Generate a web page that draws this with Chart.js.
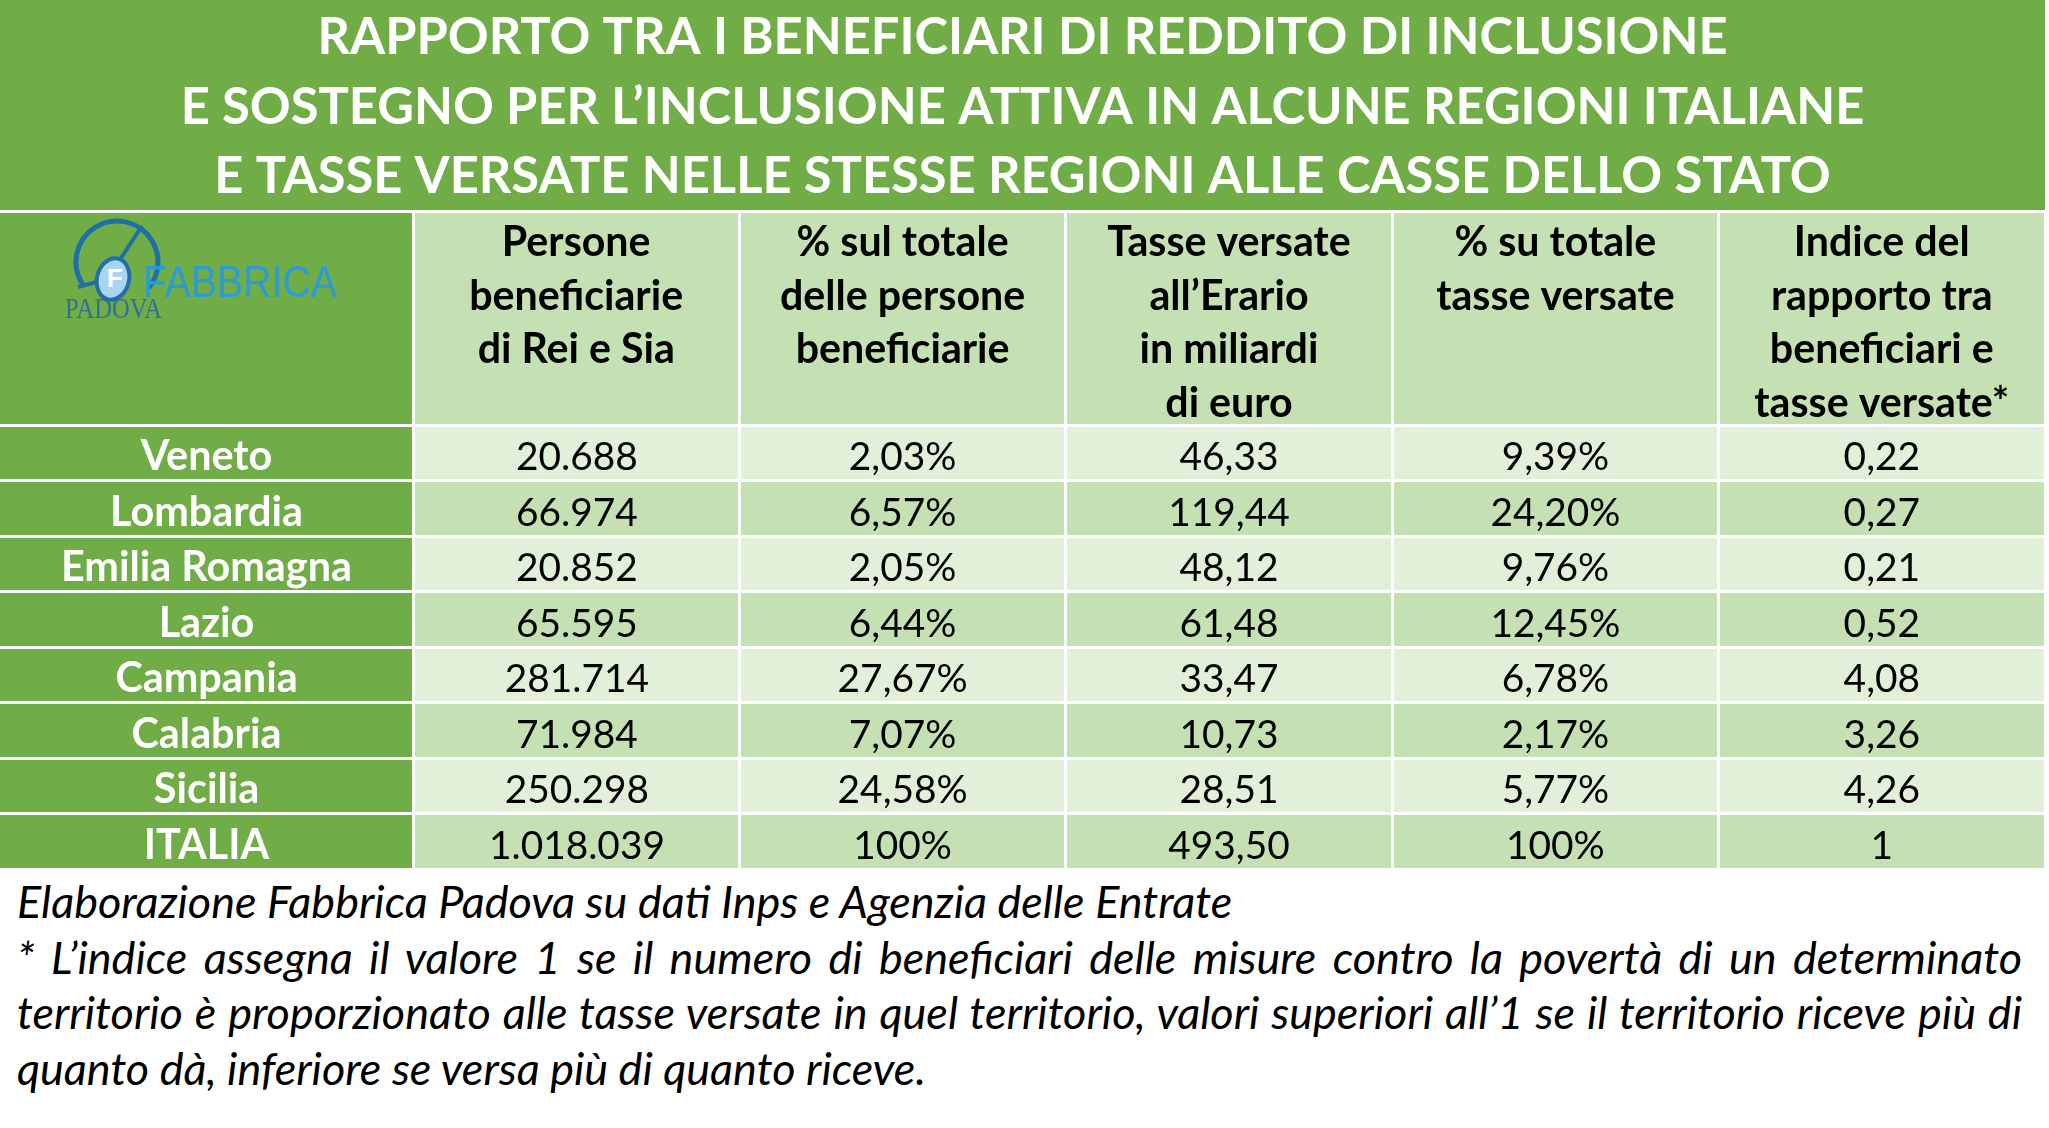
<!DOCTYPE html>
<html>
<head>
<meta charset="utf-8">
<script src="https://cdn.jsdelivr.net/npm/chart.js@4.4.0/dist/chart.umd.min.js"></script>
<style>
  body { margin: 0; background: #fff; width: 2049px; height: 1128px; overflow: hidden; }
  #table { position: absolute; left: 0; top: 0; }
  #note { position: absolute; left: 17px; top: 874px; width: 2005px; font-family: Lato; font-style: italic; color: #000; line-height: 55.5px; white-space: nowrap; }
  #note .j { text-align: justify; text-align-last: justify; }
</style>
</head>
<body>
<canvas id="table" width="2049" height="870"></canvas>
<div id="note">
  <div id="source">Elaborazione Fabbrica Padova su dati Inps e Agenzia delle Entrate</div>
  <div class="j">* L’indice assegna il valore 1 se il numero di beneficiari delle misure contro la povertà di un determinato</div>
  <div class="j">territorio è proporzionato alle tasse versate in quel territorio, valori superiori all’1 se il territorio riceve più di</div>
  <div>quanto dà, inferiore se versa più di quanto riceve.</div>
</div>
<script>
const titleLines = [
  'RAPPORTO TRA I BENEFICIARI DI REDDITO DI INCLUSIONE',
  'E SOSTEGNO PER L’INCLUSIONE ATTIVA IN ALCUNE REGIONI ITALIANE',
  'E TASSE VERSATE NELLE STESSE REGIONI ALLE CASSE DELLO STATO'
];
const headers = [
  ['Persone', 'beneficiarie', 'di Rei e Sia'],
  ['% sul totale', 'delle persone', 'beneficiarie'],
  ['Tasse versate', 'all’Erario', 'in miliardi', 'di euro'],
  ['% su totale', 'tasse versate'],
  ['Indice del', 'rapporto tra', 'beneficiari e', 'tasse versate*']
];
const regions = ['Veneto', 'Lombardia', 'Emilia Romagna', 'Lazio', 'Campania', 'Calabria', 'Sicilia', 'ITALIA'];
const beneficiari = ['20.688', '66.974', '20.852', '65.595', '281.714', '71.984', '250.298', '1.018.039'];
const quotaBeneficiari = ['2,03%', '6,57%', '2,05%', '6,44%', '27,67%', '7,07%', '24,58%', '100%'];
const tasse = ['46,33', '119,44', '48,12', '61,48', '33,47', '10,73', '28,51', '493,50'];
const quotaTasse = ['9,39%', '24,20%', '9,76%', '12,45%', '6,78%', '2,17%', '5,77%', '100%'];
const indice = ['0,22', '0,27', '0,21', '0,52', '4,08', '3,26', '4,26', '1'];

const GREEN = '#70ad47';
const MEDIUM = '#c5e0b3';
const LIGHT = '#e2efd9';

const columns = [beneficiari, quotaBeneficiari, tasse, quotaTasse, indice];

// pick font sizes so that a reference string gets the width it has in the picture
const probe = document.createElement('canvas').getContext('2d');
function fitSize(text, style, target) {
  probe.font = `${style} 100px Lato`;
  return 100 * target / probe.measureText(text).width;
}
function widest(texts, font) {
  probe.font = font;
  return Math.max(...texts.map((t) => probe.measureText(t).width));
}

const titleSize = fitSize(titleLines[1], 'bold', 1684);
const headSize = fitSize('beneficiarie', 'bold', 214);
const regionSize = fitSize('Emilia Romagna', 'bold', 291);
const valueSize = fitSize('1.018.039', 'normal', 176);
const noteSize = fitSize('Elaborazione Fabbrica Padova su dati Inps e Agenzia delle Entrate', 'italic', 1217);
document.getElementById('note').style.fontSize = noteSize + 'px';

const regionWidest = widest(regions, `bold ${regionSize}px Lato`);

function drawLogo(ctx) {
  ctx.save();
  ctx.strokeStyle = '#1f6fa8';
  ctx.lineWidth = 5;
  ctx.beginPath();
  ctx.arc(117, 262, 41, 147 * Math.PI / 180, 400 * Math.PI / 180);
  ctx.stroke();
  ctx.lineWidth = 4;
  ctx.beginPath();
  ctx.moveTo(121, 258); ctx.lineTo(142, 226);
  ctx.moveTo(97, 282); ctx.lineTo(78, 287);
  ctx.stroke();
  ctx.beginPath();
  ctx.ellipse(113, 279, 16, 21, 0.25, 0, Math.PI * 2);
  ctx.fillStyle = '#a9d3ef';
  ctx.fill();
  ctx.stroke();
  ctx.fillStyle = '#ffffff';
  ctx.font = 'bold 26px "Liberation Sans"';
  ctx.textAlign = 'center';
  ctx.textBaseline = 'middle';
  ctx.fillText('F', 115, 280);

  ctx.textAlign = 'left';
  ctx.textBaseline = 'alphabetic';
  ctx.font = '45px "Liberation Sans"';
  let w = ctx.measureText('FABBRICA').width;
  ctx.save();
  ctx.translate(143, 297);
  ctx.scale(194 / w, 1);
  ctx.fillStyle = '#2b9bd8';
  ctx.fillText('FABBRICA', 0, 0);
  ctx.restore();
  ctx.font = '30px "Liberation Serif"';
  w = ctx.measureText('PADOVA').width;
  ctx.translate(65, 318);
  ctx.scale(97 / w, 1);
  ctx.fillStyle = '#2f6f9f';
  ctx.fillText('PADOVA', 0, 0);
  ctx.restore();
}

const backdrop = {
  id: 'backdrop',
  beforeDraw(chart) {
    const { ctx, chartArea, scales } = chart;
    const head = scales.x2;
    ctx.save();
    ctx.fillStyle = GREEN;
    ctx.fillRect(0, 0, chartArea.right, chartArea.bottom);
    ctx.fillStyle = MEDIUM;
    ctx.fillRect(chartArea.left, head.top, chartArea.right - chartArea.left, head.bottom - head.top);
    ctx.fillStyle = '#ffffff';
    ctx.fillRect(0, head.top - 1.5, chartArea.right, 3);
    ctx.restore();
    drawLogo(ctx);
  }
};

const cellText = {
  id: 'cellText',
  afterDatasetsDraw(chart) {
    const { ctx } = chart;
    ctx.save();
    ctx.font = `${valueSize}px Lato`;
    ctx.fillStyle = '#000';
    ctx.textAlign = 'center';
    ctx.textBaseline = 'middle';
    chart.data.datasets.forEach((ds, i) => {
      chart.getDatasetMeta(i).data.forEach((bar, j) => {
        ctx.fillText(ds.texts[j], (bar.x + bar.base) / 2, bar.y + 5);
      });
    });
    ctx.restore();
  }
};

new Chart(document.getElementById('table'), {
  type: 'bar',
  data: {
    labels: regions,
    datasets: columns.map((vals, c) => ({
      data: vals.map(() => [c, c + 1]),
      texts: vals,
      backgroundColor: (ctx) => (ctx.dataIndex % 2 ? MEDIUM : LIGHT),
      borderWidth: 0,
      grouped: false,
      barPercentage: 1,
      categoryPercentage: 1
    }))
  },
  options: {
    indexAxis: 'y',
    responsive: false,
    animation: false,
    devicePixelRatio: 1,
    layout: { padding: { top: 0, left: 0, right: 4, bottom: 1 } },
    plugins: {
      legend: { display: false },
      tooltip: { enabled: false },
      title: {
        display: true,
        text: titleLines,
        color: '#ffffff',
        font: { family: 'Lato', weight: 'bold', size: titleSize, lineHeight: '69.5px' },
        padding: { top: 3, bottom: 0 }
      }
    },
    scales: {
      x: {
        type: 'linear',
        min: 0,
        max: 5,
        position: 'bottom',
        afterFit: (s) => { s.height = 0; },
        border: { display: false },
        ticks: { display: false, stepSize: 1 },
        grid: { color: '#ffffff', lineWidth: 3, z: 1, drawTicks: false }
      },
      x2: {
        type: 'category',
        labels: headers,
        position: 'top',
        offset: true,
        afterFit: (s) => { s.height = 213.5; },
        border: { display: false },
        grid: { offset: true, color: '#ffffff', lineWidth: 3, drawOnChartArea: false, drawTicks: true, tickLength: 214, z: 1 },
        ticks: {
          color: '#000',
          font: { family: 'Lato', weight: 'bold', size: headSize, lineHeight: '53.5px' },
          crossAlign: 'far',
          padding: -219,
          autoSkip: false,
          maxRotation: 0
        }
      },
      y: {
        type: 'category',
        position: 'left',
        afterFit: (s) => { s.width = 413; },
        border: { display: false },
        grid: { offset: true, color: '#ffffff', lineWidth: 3, z: 1, drawTicks: true, tickLength: 413 },
        ticks: {
          color: '#ffffff',
          font: { family: 'Lato', weight: 'bold', size: regionSize },
          crossAlign: 'center',
          padding: -206.5 - regionWidest / 2,
          labelOffset: 4,
          autoSkip: false
        }
      }
    }
  },
  plugins: [backdrop, cellText]
});
</script>
</body>
</html>
